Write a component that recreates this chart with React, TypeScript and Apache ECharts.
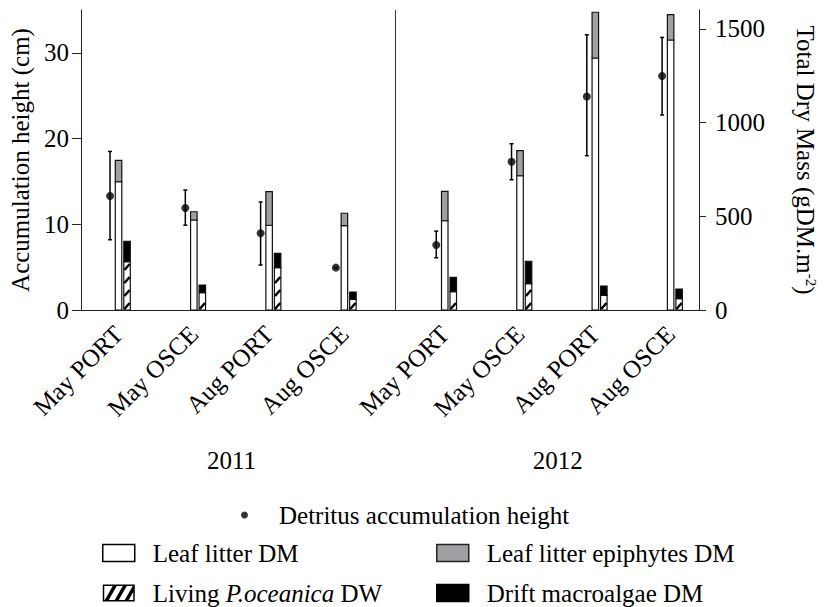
import React, { useEffect, useRef } from 'react';
import * as echarts from 'echarts';

const categories = ['May PORT', 'May OSCE', 'Aug PORT', 'Aug OSCE', 'May PORT', 'May OSCE', 'Aug PORT', 'Aug OSCE'];
const years = ['2011', '2012'];
const xPositions = [1, 2, 3, 4, 5.333, 6.333, 7.333, 8.333];
const heightMean = [13.3, 11.9, 8.95, 4.94, 7.58, 17.3, 24.9, 27.3];
const heightLow = [8.2, 9.9, 5.25, 4.94, 6.1, 15.2, 18.0, 22.75];
const heightHigh = [18.5, 14.0, 12.6, 4.94, 9.2, 19.4, 32.1, 31.8];
const leafLitter = [684, 480, 452, 450, 476, 716, 1344, 1440];
const epiphytes = [114, 44, 179, 66, 157, 134, 244, 135];
const livingPoc = [258, 92, 226, 57, 98, 140, 78, 60];
const macroalgae = [108, 41, 76, 39, 76, 120, 50, 52];
const leftTicks = [0, 10, 20, 30];
const rightTicks = [0, 500, 1000, 1500];

const FONT = "'Liberation Serif', 'Times New Roman', serif";
const FS = 25;
const DOT = 'Detritus accumulation height';
const LEAF = 'Leaf litter DM';
const EPI = 'Leaf litter epiphytes DM';
const LIVING = 'Living P.oceanica DW';
const ALGAE = 'Drift macroalgae DM';

const BAR_W = 6.5;
const OFF = 8.5;

const HATCH_ICON =
  'path://M0,0H32V17H0Z M1.5,1.5V15.5H30.5V1.5Z M2,15.5L6,15.5L14,1.5L10,1.5Z M12,15.5L16,15.5L24,1.5L20,1.5Z M22,15.5L26,15.5L30.5,7.6L30.5,1.5L30,1.5Z';

function nearestIndex(arr: number[], v: number) {
  let best = 0;
  for (let i = 1; i < arr.length; i++) if (Math.abs(arr[i] - v) < Math.abs(arr[best] - v)) best = i;
  return best;
}

function barRenderer(offset: number, fill: string, hatch: boolean) {
  return (params: any, api: any) => {
    const x = api.value(0);
    const base = api.value(1);
    const h = api.value(2);
    const p0 = api.coord([x, base]);
    const p1 = api.coord([x, base + h]);
    const left = p0[0] + offset - BAR_W / 2;
    const top = p1[1];
    const height = p0[1] - p1[1];
    const rect = {
      type: 'rect',
      shape: { x: left, y: top, width: BAR_W, height },
      style: { fill, stroke: '#111', lineWidth: 1.2 },
    };
    if (!hatch) return rect;
    const children: any[] = [rect];
    for (let yb = p0[1] - 1; yb - 6 >= top; yb -= 13) {
      children.push({
        type: 'line',
        shape: { x1: left + 0.6, y1: yb, x2: left + BAR_W - 0.6, y2: yb - 6 },
        style: { stroke: '#000', lineWidth: 2.5 },
      });
    }
    return { type: 'group', children };
  };
}

export default function App() {
  const ref = useRef<HTMLDivElement>(null);
  useEffect(() => {
    document.body.style.margin = '0';
    if (!ref.current) return;
    const chart = echarts.init(ref.current, undefined, { renderer: 'svg' });
    const yearCenters = [
      (xPositions[0] + xPositions[3]) / 2,
      (xPositions[4] + xPositions[7]) / 2,
    ];
    const divider = (xPositions[3] + xPositions[4]) / 2;
    const axisLineStyle = { color: '#222', width: 1 };
    const txt = { fontFamily: FONT, fontSize: FS, color: '#000' };
    const legendText = {
      ...txt,
      padding: [0, 0, 0, 13],
      lineHeight: 26,
      rich: { i: { fontStyle: 'italic', fontFamily: FONT, fontSize: FS, color: '#000' } },
    };
    const legendFormatter = (name: string) =>
      name === LIVING ? 'Living {i|P.oceanica} DW' : name;

    chart.setOption({
      animation: false,
      backgroundColor: '#fff',
      grid: { left: 79, right: 120, top: 10, bottom: 297, containLabel: false },
      xAxis: [
        {
          type: 'value',
          min: 0.5,
          max: 8.71,
          position: 'bottom',
          axisLine: { show: true, onZero: false, lineStyle: axisLineStyle },
          axisTick: { show: false },
          splitLine: { show: false },
          axisLabel: {
            ...txt,
            customValues: xPositions,
            formatter: (v: number) => categories[nearestIndex(xPositions, v)],
            rotate: 45,
            align: 'right',
            verticalAlign: 'middle',
            margin: 20,
          },
        },
        {
          type: 'value',
          min: 0.5,
          max: 8.71,
          position: 'bottom',
          offset: 128,
          axisLine: { show: false },
          axisTick: { show: false },
          splitLine: { show: false },
          axisLabel: {
            ...txt,
            customValues: yearCenters,
            formatter: (v: number) => years[nearestIndex(yearCenters, v)],
            margin: 10,
          },
        },
      ],
      yAxis: [
        {
          type: 'value',
          min: 0,
          max: 35,
          position: 'left',
          axisLine: { show: true, lineStyle: axisLineStyle },
          axisTick: { show: true, length: 9, customValues: leftTicks, lineStyle: axisLineStyle },
          axisLabel: { ...txt, customValues: leftTicks, margin: 12, formatter: (v: number) => String(v) },
          splitLine: { show: false },
          name: 'Accumulation height (cm)',
          nameLocation: 'middle',
          nameRotate: 90,
          nameGap: 46,
          nameTextStyle: txt,
        },
        {
          type: 'value',
          min: 0,
          max: 1600,
          position: 'right',
          axisLine: { show: true, lineStyle: axisLineStyle },
          axisTick: { show: true, length: 7, customValues: rightTicks, lineStyle: axisLineStyle },
          axisLabel: { ...txt, customValues: rightTicks, margin: 16, formatter: (v: number) => String(v) },
          splitLine: { show: false },
          name: 'Total Dry Mass (gDM.m{sup|-2})',
          nameLocation: 'middle',
          nameRotate: -90,
          nameGap: 94,
          nameTextStyle: {
            ...txt,
            rich: { sup: { fontFamily: FONT, fontSize: 15, color: '#000', verticalAlign: 'top', lineHeight: 14 } },
          },
        },
      ],
      legend: [
        {
          selectedMode: false,
          left: 236,
          top: 497,
          height: 40,
          itemWidth: 7,
          itemHeight: 7,
          data: [{ name: DOT, icon: 'circle', itemStyle: { color: '#000' } }],
          textStyle: { ...txt, padding: [0, 0, 0, 26], lineHeight: 26 },
        },
        {
          selectedMode: false,
          orient: 'vertical',
          left: 97,
          top: 535,
          height: 120,
          width: 320,
          itemWidth: 32,
          itemHeight: 17,
          itemGap: 14,
          formatter: legendFormatter,
          data: [
            { name: LEAF, icon: 'rect', itemStyle: { color: '#fff', borderColor: '#000', borderWidth: 1.5 } },
            { name: LIVING, icon: HATCH_ICON, itemStyle: { color: '#000', borderWidth: 0 } },
          ],
          textStyle: legendText,
        },
        {
          selectedMode: false,
          orient: 'vertical',
          left: 431,
          top: 535,
          height: 120,
          width: 380,
          itemWidth: 32,
          itemHeight: 17,
          itemGap: 14,
          formatter: legendFormatter,
          data: [
            { name: EPI, icon: 'rect', itemStyle: { color: '#a0a0a4', borderColor: '#222', borderWidth: 1.5 } },
            { name: ALGAE, icon: 'rect', itemStyle: { color: '#000', borderColor: '#000', borderWidth: 1.5 } },
          ],
          textStyle: legendText,
        },
      ],
      series: [
        {
          name: LEAF,
          type: 'custom',
          xAxisIndex: 0,
          yAxisIndex: 1,
          renderItem: barRenderer(0, '#fff', false),
          encode: { x: 0, y: [1, 2] },
          data: xPositions.map((x, i) => [x, 0, leafLitter[i]]),
          itemStyle: { color: '#fff', borderColor: '#000' },
        },
        {
          name: EPI,
          type: 'custom',
          xAxisIndex: 0,
          yAxisIndex: 1,
          renderItem: barRenderer(0, '#a0a0a4', false),
          encode: { x: 0, y: [1, 2] },
          data: xPositions.map((x, i) => [x, leafLitter[i], epiphytes[i]]),
          itemStyle: { color: '#a0a0a4' },
        },
        {
          name: LIVING,
          type: 'custom',
          xAxisIndex: 0,
          yAxisIndex: 1,
          renderItem: barRenderer(OFF, '#fff', true),
          encode: { x: 0, y: [1, 2] },
          data: xPositions.map((x, i) => [x, 0, livingPoc[i]]),
          itemStyle: { color: '#000' },
        },
        {
          name: ALGAE,
          type: 'custom',
          xAxisIndex: 0,
          yAxisIndex: 1,
          renderItem: barRenderer(OFF, '#000', false),
          encode: { x: 0, y: [1, 2] },
          data: xPositions.map((x, i) => [x, livingPoc[i], macroalgae[i]]),
          itemStyle: { color: '#000' },
        },
        {
          name: 'Detritus error',
          type: 'custom',
          xAxisIndex: 0,
          yAxisIndex: 0,
          encode: { x: 0, y: [1, 2] },
          data: xPositions.map((x, i) => [x, heightLow[i], heightHigh[i]]),
          renderItem: (params: any, api: any) => {
            const x = api.value(0);
            const lo = api.coord([x, api.value(1)]);
            const hi = api.coord([x, api.value(2)]);
            const cx = lo[0] - OFF;
            const st = { stroke: '#000', lineWidth: 1.5 };
            return {
              type: 'group',
              children: [
                { type: 'line', shape: { x1: cx, y1: lo[1], x2: cx, y2: hi[1] }, style: st },
                { type: 'line', shape: { x1: cx - 2, y1: lo[1], x2: cx + 2, y2: lo[1] }, style: st },
                { type: 'line', shape: { x1: cx - 2, y1: hi[1], x2: cx + 2, y2: hi[1] }, style: st },
              ],
            };
          },
        },
        {
          name: DOT,
          type: 'scatter',
          xAxisIndex: 0,
          yAxisIndex: 0,
          symbol: 'circle',
          symbolSize: 8,
          symbolOffset: [-OFF, 0],
          itemStyle: { color: '#000' },
          data: xPositions.map((x, i) => [x, heightMean[i]]),
          markLine: {
            silent: true,
            symbol: 'none',
            label: { show: false },
            lineStyle: { color: '#333', width: 1, type: 'solid' },
            data: [{ xAxis: divider }],
          },
        },
      ],
    });
    return () => chart.dispose();
  }, []);
  return <div ref={ref} style={{ width: 826, height: 607 }} />;
}
